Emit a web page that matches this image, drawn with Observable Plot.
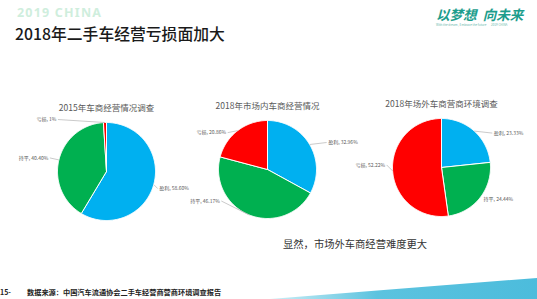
<!DOCTYPE html>
<html><head><meta charset="utf-8">
<script src="https://cdn.jsdelivr.net/npm/d3@7"></script>
<script src="https://cdn.jsdelivr.net/npm/@observablehq/plot@0.6"></script>
<style>
html,body{margin:0;padding:0}
body{width:537px;height:299px;overflow:hidden;background:#fff;position:relative;font-family:"Noto Sans CJK SC","Noto Sans",sans-serif}
.abs{position:absolute;white-space:nowrap;line-height:1}
.pie{position:absolute}
</style></head><body>
<div class="abs" style="left:17px;top:4px;font:bold 12.5px 'Noto Sans',sans-serif;color:#cfeedd;letter-spacing:1.2px">2019 CHINA</div>
<div class="abs" style="left:15px;top:26px;font-size:15.8px;font-weight:500;color:#1a1a1a">2018年二手车经营亏损面加大</div>
<div class="abs" style="left:436px;top:8px;font-size:13.5px;font-weight:bold;font-style:italic;color:#1c9d8c">以梦想&nbsp;&nbsp;向未来</div>
<div class="abs" style="left:436px;top:24px;font-size:3px;color:#6bb8ad">With the dream , Embrace the future&nbsp;&nbsp;&nbsp;&nbsp;&nbsp;&nbsp;&nbsp;2019 CHINA</div>
<div id="charts"></div>
<div class="abs" style="left:283px;top:239px;font-size:10.3px;color:#333">显然，市场外车商经营难度更大</div>
<div class="abs" style="left:0px;top:289px;font-size:7px;font-weight:bold;color:#222">15-</div>
<div class="abs" style="left:27px;top:289px;font-size:7.2px;font-weight:bold;color:#222">数据来源：中国汽车流通协会二手车经营商营商环境调查报告</div>
<div class="abs" style="left:270px;top:278px;width:267px;height:21px;background:linear-gradient(90deg,#cdeef6,#5cc3df 40%,#4cbcdc);clip-path:polygon(0 100%,100% 0,100% 100%)"></div>
<script>
// ---- data ----
const categories = ["盈利", "持平", "亏损"];
const chartTitles = ["2015年车商经营情况调查", "2018年市场内车商经营情况", "2018年场外车商营商环境调查"];
const values2015 = [58.60, 40.40, 1];
const valuesInside2018 = [32.96, 46.17, 20.86];
const valuesOutside2018 = [23.33, 24.44, 52.22];
const valueLabels2015 = ["58.60%", "40.40%", "1%"];
const valueLabelsInside2018 = ["32.96%", "46.17%", "20.86%"];
const valueLabelsOutside2018 = ["23.33%", "24.44%", "52.22%"];

// ---- layout / style ----
const colors = ["#00b0f0", "#00b050", "#ff0000"];
const pieCenters = [[106, 171], [267, 169], [441, 167]];
const labelNudges = [
  [[4, 4, "start"], [-9, -2, "end"], [-47, -3, "end"]],
  [[17, -2, "start"], [-28, -14, "end"], [-10, 2, "end"]],
  [[18, 2, "start"], [2, 2, "start"], [-6, -6, "end"]]
];

function drawPie(values, valueLabels, title, center, nudges) {
  const W = 200, H = 150, R = 49, CX = 100, CY = 85;
  const arcs = d3.pie().sort(null).value(d => d)(values);
  const pts = [];
  arcs.forEach((a, i) => {
    const cat = categories[i];
    pts.push({cat, x: 0, y: 0});
    const n = Math.max(2, Math.ceil((a.endAngle - a.startAngle) / (Math.PI / 180)) + 1);
    for (let k = 0; k < n; k++) {
      const t = a.startAngle + (a.endAngle - a.startAngle) * k / (n - 1);
      pts.push({cat, x: Math.sin(t), y: Math.cos(t)});
    }
    pts.push({cat, x: 0, y: 0});
  });
  const labels = arcs.map((a, i) => {
    const m = (a.startAngle + a.endAngle) / 2;
    const ex = Math.sin(m), ey = Math.cos(m);
    const [dx, dy, anchor] = nudges[i];
    const lx = ex + dx / R, ly = ey - dy / R;
    return {text: `${categories[i]}, ${valueLabels[i]}`, ex, ey, lx, ly, anchor,
            lead: Math.hypot(dx, dy) > 5};
  });
  const plot = Plot.plot({
    width: W, height: H,
    marginTop: 0, marginRight: 0, marginBottom: 0, marginLeft: 0,
    x: {domain: [-CX / R, (W - CX) / R], range: [0, W], axis: null},
    y: {domain: [-(H - CY) / R, CY / R], range: [H, 0], axis: null},
    color: {domain: categories, range: colors},
    style: {background: "transparent", fontFamily: "'Noto Sans CJK SC', sans-serif", overflow: "visible"},
    marks: [
      Plot.line(pts, {x: "x", y: "y", z: "cat", fill: "cat", stroke: "white", strokeWidth: 1, strokeLinejoin: "round"}),
      Plot.link(labels.filter(d => d.lead), {x1: "ex", y1: "ey", x2: "lx", y2: "ly", stroke: "#a6a6a6", strokeWidth: 0.6}),
      Plot.text(labels.filter(d => d.anchor === "start"), {x: "lx", y: "ly", text: "text", textAnchor: "start", dx: 1.5, fontSize: 5, fill: "#595959"}),
      Plot.text(labels.filter(d => d.anchor === "end"), {x: "lx", y: "ly", text: "text", textAnchor: "end", dx: -1.5, fontSize: 5, fill: "#595959"}),
      Plot.text([title], {frameAnchor: "top", dy: 22, lineAnchor: "middle", fontSize: 8.5, fill: "#595959"})
    ]
  });
  plot.classList.add("pie");
  plot.style.left = (center[0] - CX) + "px";
  plot.style.top = (center[1] - CY) + "px";
  plot.style.maxWidth = "none";
  document.getElementById("charts").appendChild(plot);
}

drawPie(values2015, valueLabels2015, chartTitles[0], pieCenters[0], labelNudges[0]);
drawPie(valuesInside2018, valueLabelsInside2018, chartTitles[1], pieCenters[1], labelNudges[1]);
drawPie(valuesOutside2018, valueLabelsOutside2018, chartTitles[2], pieCenters[2], labelNudges[2]);
</script>
</body></html>
